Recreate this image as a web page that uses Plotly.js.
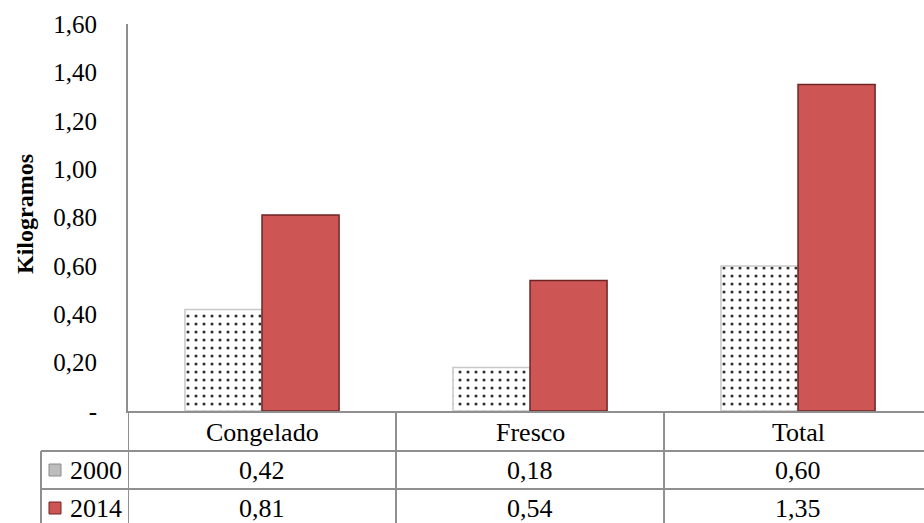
<!DOCTYPE html>
<html><head><meta charset="utf-8">
<script src="https://cdn.plot.ly/plotly-3.0.1.min.js"></script>
<style>html,body{margin:0;padding:0;background:#fff}#c{width:924px;height:523px}</style>
</head><body><div id="c"></div>
<script>
const categories = ["Congelado", "Fresco", "Total"];
const series2000 = [0.42, 0.18, 0.60];
const series2014 = [0.81, 0.54, 1.35];
const seriesNames = ["2000", "2014"];
const yTickVals = [0, 0.2, 0.4, 0.6, 0.8, 1.0, 1.2, 1.4, 1.6];
const yTickText = ["-", "0,20", "0,40", "0,60", "0,80", "1,00", "1,20", "1,40", "1,60"];

const W = 924, H = 523, L = 128, R = 0, T = 24, B = 112;
const pw = W - L - R, ph = H - T - B;
const px = x => (x - L) / pw;          // pixel -> paper x
const py = y => (H - B - y) / ph;      // pixel -> paper y
const fam = "Liberation Serif";
const tickFnt = {family: fam, size: 25, color: "#000"};
const fnt = {family: fam, size: 26, color: "#000"};
const lineCol = "#8f8f8f";
const red = "#CD5654";
const fmt = v => v.toFixed(2).replace(".", ",");

const traces = [
  {type: "bar", name: seriesNames[0], x: categories, y: series2000,
   marker: {color: "#ffffff", line: {color: "#c8c8c8", width: 1.5},
            pattern: {shape: ".", fgcolor: "#333", bgcolor: "#fff", size: 8, solidity: 0.12}}},
  {type: "bar", name: seriesNames[1], x: categories, y: series2014,
   marker: {color: red, line: {color: "#6e2524", width: 1.5}}}
];

const shapes = [];
const annotations = [];
const hline = (y, x0, x1) => shapes.push({type: "line", xref: "paper", yref: "paper", x0: x0, x1: x1, y0: y, y1: y, line: {color: lineCol, width: 2}});
const vline = (x, y0, y1, xref) => shapes.push({type: "line", xref: xref || "paper", yref: "paper", x0: x, x1: x, y0: y0, y1: y1, line: {color: lineCol, width: 2}});
hline(py(451), px(41), 1.02);
hline(py(489), px(41), 1.02);
vline(px(41), py(451), py(530));
vline(-0.5, 0, py(530), "x");
vline(0.5, 0, py(530), "x");
vline(1.5, 0, py(530), "x");

// header row
categories.forEach((c, i) => annotations.push({x: c, xref: "x", y: py(432), yref: "paper", yanchor: "middle", text: c, showarrow: false, font: fnt}));
// data rows
const rows = [[series2000, 470], [series2014, 508]];
rows.forEach(([vals, yy], r) => {
  vals.forEach((v, i) => annotations.push({x: categories[i], xref: "x", y: py(yy), yref: "paper", yanchor: "middle", text: fmt(v), showarrow: false, font: fnt}));
  annotations.push({x: px(124), xref: "paper", xanchor: "right", y: py(yy), yref: "paper", yanchor: "middle", text: seriesNames[r], showarrow: false, font: fnt});
});
// legend keys
shapes.push({type: "rect", xref: "paper", yref: "paper", x0: px(49), x1: px(61), y0: py(476), y1: py(464), fillcolor: "#bdbdbd", line: {color: "#8a8a8a", width: 1}});
shapes.push({type: "rect", xref: "paper", yref: "paper", x0: px(49), x1: px(61), y0: py(514), y1: py(502), fillcolor: red, line: {color: "#6e2524", width: 1}});
// y title
annotations.push({x: px(25), xref: "paper", y: py(214), yref: "paper", text: "<b>Kilogramos</b>", textangle: -90, showarrow: false, xanchor: "center", yanchor: "middle", font: {family: fam, size: 24, color: "#000"}});

const layout = {
  width: W, height: H, margin: {l: L, r: R, t: T, b: B},
  paper_bgcolor: "#fff", plot_bgcolor: "#fff",
  barmode: "group", bargap: 0.425, bargroupgap: 0,
  showlegend: false,
  font: {family: fam},
  xaxis: {range: [-0.5, 2.47], showticklabels: false, showgrid: false, zeroline: false,
          showline: true, linecolor: lineCol, linewidth: 2, ticks: "", fixedrange: true},
  yaxis: {range: [0, 1.6], tickvals: yTickVals, ticktext: yTickText, showgrid: false, zeroline: false,
          showline: true, linecolor: lineCol, linewidth: 2, ticks: "", ticklabelstandoff: 24,
          tickfont: tickFnt, fixedrange: true},
  shapes: shapes, annotations: annotations
};
Plotly.newPlot("c", traces, layout, {displayModeBar: false, staticPlot: true});
</script></body></html>
